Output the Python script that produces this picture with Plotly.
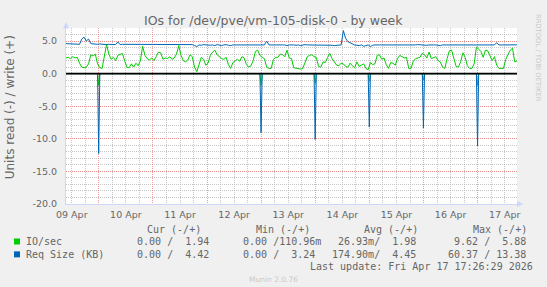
import plotly.graph_objects as go
import pandas as pd

# ---------------- data ----------------
start = pd.Timestamp('2026-04-09 09:26:29')
end = pd.Timestamp('2026-04-17 17:26:29')

# IO/sec write (+), hourly samples from start
io_write = [
    2.4, 2.5, 2.3, 2.6, 2.4, 2.5, 1.6, 1.0, 0.9, 1.0,
    1.5, 2.9, 2.7, 3.0, 1.5, 0.9, 0.8, 2.5, 4.5, 3.0,
    2.2, 2.5, 2.0, 2.8, 3.0, 3.1, 2.0, 1.0, 0.9, 1.5,
    1.0, 1.6, 1.2, 2.0, 4.2, 2.8, 2.3, 2.1, 2.4, 2.0,
    2.6, 3.3, 3.2, 2.2, 2.4, 2.3, 2.6, 2.2, 2.4, 3.0,
    4.3, 2.8, 2.0, 1.8, 2.1, 2.9, 2.6, 1.0, 0.3, 1.5,
    2.5, 2.2, 1.3, 1.6, 2.8, 3.3, 3.6, 2.9, 2.6, 2.3,
    2.2, 2.5, 1.4, 0.8, 1.7, 2.0, 2.2, 1.9, 2.6, 2.4,
    1.4, 1.0, 1.2, 2.0, 3.4, 3.6, 2.8, 2.5, 2.3, 1.0,
    0.8, 0.8, 2.2, 2.5, 2.5, 3.0, 2.9, 2.6, 3.6, 2.4,
    2.3, 0.9, 0.8, 0.8, 0.7, 0.8, 1.6, 2.6, 2.8, 2.9,
    2.6, 2.5, 1.1, 1.0, 1.8, 1.7, 2.5, 3.1, 2.3, 1.8,
    1.3, 1.2, 1.6, 1.5, 1.1, 1.0, 1.6, 1.2, 0.9, 1.8,
    1.1, 1.3, 1.5, 0.8, 0.6, 1.7, 1.4, 1.5, 2.8, 2.9,
    2.2, 2.4, 1.4, 0.8, 1.7, 1.6, 1.3, 2.3, 2.8, 2.6,
    2.4, 2.5, 0.8, 0.8, 1.9, 2.3, 2.4, 2.5, 3.1, 2.9,
    2.4, 3.3, 2.3, 2.5, 2.6, 2.0, 1.8, 1.0, 0.8, 2.3,
    3.5, 3.6, 2.3, 1.1, 1.0, 1.8, 3.2, 2.5, 1.2, 0.8,
    0.8, 1.5, 4.1, 3.8, 3.4, 2.5, 3.6, 3.5, 2.8, 2.0,
    2.6, 1.3, 0.8, 0.8, 0.8, 2.2, 3.0, 3.6, 3.9, 1.8,
    1.94,
]

# Req Size (KB) write (+), hourly samples from start
req_write = [
    4.60, 4.60, 4.55, 4.60, 4.60, 4.55, 4.50, 5.30, 5.60, 5.00,
    5.30, 4.60, 4.55, 4.50, 4.50, 4.55, 4.50, 4.50, 4.45, 4.50,
    4.50, 4.50, 4.45, 4.85, 4.45, 4.50, 4.50, 4.45, 4.45, 4.50,
    4.45, 4.45, 4.50, 4.50, 4.45, 4.45, 4.50, 4.45, 4.40, 4.45,
    4.45, 4.45, 4.45, 4.50, 4.45, 4.45, 4.50, 4.45, 4.45, 4.45,
    4.50, 4.45, 4.45, 4.45, 4.40, 4.45, 4.45, 4.30, 4.15, 4.40,
    4.35, 4.45, 4.40, 4.45, 4.35, 4.40, 4.30, 4.45, 4.35, 4.30,
    4.40, 4.45, 4.35, 4.30, 4.40, 4.40, 4.45, 4.40, 4.40, 4.35,
    4.40, 4.40, 4.45, 4.40, 4.35, 4.40, 4.45, 4.40, 4.40, 5.00,
    4.40, 4.40, 4.35, 4.40, 4.40, 4.45, 4.40, 4.40, 4.30, 4.40,
    4.45, 4.40, 4.35, 4.40, 4.30, 4.40, 4.45, 4.40, 4.40, 4.40,
    4.35, 4.40, 4.45, 4.40, 4.40, 4.35, 4.40, 4.40, 4.35, 4.30,
    4.35, 4.40, 4.40, 6.60, 5.40, 4.90, 4.70, 4.55, 4.40, 4.35,
    4.30, 4.40, 4.20, 4.30, 4.40, 4.15, 4.35, 4.40, 4.35, 4.40,
    4.40, 4.40, 4.35, 4.40, 4.40, 4.30, 4.40, 4.40, 4.40, 4.35,
    4.40, 4.40, 4.40, 4.35, 4.40, 4.40, 4.45, 4.40, 4.40, 4.40,
    4.35, 4.40, 4.45, 4.40, 4.40, 4.35, 4.30, 4.40, 4.40, 4.35,
    4.40, 4.40, 4.45, 4.40, 4.40, 4.35, 4.40, 4.40, 4.45, 4.40,
    4.40, 4.40, 4.35, 4.40, 4.40, 4.40, 4.40, 4.35, 4.40, 4.40,
    4.40, 4.75, 4.40, 4.40, 4.40, 4.35, 4.40, 4.40, 4.40, 4.40,
    4.42,
]

# read (-) spikes: otherwise zero
spike_times = ['2026-04-09 23:56:29', '2026-04-12 23:56:29', '2026-04-13 23:56:29',
               '2026-04-14 23:56:29', '2026-04-15 23:56:29', '2026-04-16 23:56:29']
io_read_spikes = [1.8, 1.8, 1.5, 1.2, 1.0, 1.8]
req_read_spikes = [12.25, 9.05, 10.1, 8.2, 8.35, 11.1]

day_labels = ['09 Apr', '10 Apr', '11 Apr', '12 Apr', '13 Apr', '14 Apr', '15 Apr', '16 Apr', '17 Apr']
y_tick_vals = [-20, -15, -10, -5, 0, 5]
y_tick_text = ['-20.0', '-15.0', '-10.0', '-5.0', '0.0', '5.0']

legend_names = ['IO/sec', 'Req Size (KB)']
legend_headers = ['Cur (-/+)', 'Min (-/+)', 'Avg (-/+)', 'Max (-/+)']
legend_rows = [
    ['  0.00 /  1.94 ', '  0.00 /110.96m', ' 26.93m/  1.98 ', '  9.62 /  5.88 '],
    ['  0.00 /  4.42 ', '  0.00 /  3.24 ', '174.90m/  4.45 ', ' 60.37 / 13.38 '],
]
last_update = 'Last update: Fri Apr 17 17:26:29 2026'

# ---------------- styles ----------------
GREEN = '#00cc00'
BLUE = '#0066b3'
FONT_C = '#666666'
AXIS_C = '#cfd6f8'
MGRID = 'rgba(240,120,120,0.75)'
GRID = 'rgba(180,180,180,0.75)'
W, H = 547, 287
L, R, T, B = 66, 30, 27.5, 83
PW, PH = W - L - R, H - T - B


def pxx(x):
    return (x - L) / PW


def pxy(y):
    return (H - B - y) / PH


hourly = pd.date_range(start, periods=len(io_write), freq='h')
hourly_r = pd.date_range(start, periods=len(req_write), freq='h')
half = pd.Timedelta(minutes=30)


def read_series(vals):
    xs, ys = [start], [0.0]
    for t, v in zip(spike_times, vals):
        t = pd.Timestamp(t)
        xs += [t - half, t, t + half]
        ys += [0.0, -v, 0.0]
    xs.append(end)
    ys.append(0.0)
    return xs, ys


LW = 1.0
fig = go.Figure()
xr, yr = read_series(io_read_spikes)
fig.add_trace(go.Scatter(x=xr, y=yr, mode='lines', line=dict(color=GREEN, width=LW), hoverinfo='skip'))
fig.add_trace(go.Scatter(x=hourly, y=io_write, mode='lines', line=dict(color=GREEN, width=LW), hoverinfo='skip'))
xr, yr = read_series(req_read_spikes)
fig.add_trace(go.Scatter(x=xr, y=yr, mode='lines', line=dict(color=BLUE, width=LW), hoverinfo='skip'))
fig.add_trace(go.Scatter(x=hourly_r, y=req_write, mode='lines', line=dict(color=BLUE, width=LW), hoverinfo='skip'))
# black zero rule
fig.add_trace(go.Scatter(x=[start, end], y=[0, 0], mode='lines', line=dict(color='black', width=1.6),
                         hoverinfo='skip', xaxis='x2'))

label_pos = pd.date_range('2026-04-09 12:00', periods=len(day_labels), freq='D')
tickfont = dict(family='DejaVu Sans', size=9.5, color=FONT_C)

fig.update_layout(
    width=W, height=H,
    margin=dict(l=L, r=R, t=T, b=B, pad=0),
    paper_bgcolor='#f0f0f0', plot_bgcolor='#ffffff',
    showlegend=False,
    xaxis=dict(type='date', range=[start, end], tickmode='array', tickvals=label_pos, ticktext=day_labels,
               showgrid=False, zeroline=False, ticks='', tickfont=tickfont, showline=True,
               linecolor=AXIS_C, linewidth=1, automargin=False, fixedrange=True, ticklabelstandoff=2),
    xaxis2=dict(type='date', range=[start, end], overlaying='x', side='bottom', showticklabels=False,
                tickmode='linear', tick0='2026-04-10 00:00', dtick=86400000, ticks='',
                showgrid=True, gridcolor=MGRID, griddash='1px,1px', gridwidth=1,
                minor=dict(tickmode='linear', tick0='2026-04-10 00:00', dtick=21600000, showgrid=True,
                           gridcolor=GRID, griddash='1px,1px', gridwidth=1),
                zeroline=False, showline=False, automargin=False, fixedrange=True),
    yaxis=dict(range=[-20, 7], tickmode='array', tickvals=y_tick_vals, ticktext=y_tick_text,
               showgrid=True, gridcolor=MGRID, griddash='1px,1px', gridwidth=1,
               minor=dict(tickmode='linear', tick0=0, dtick=1, showgrid=True, gridcolor=GRID,
                          griddash='1px,1px', gridwidth=1),
               zeroline=False, ticks='', tickfont=tickfont, showline=True, linecolor=AXIS_C, linewidth=1,
               automargin=False, fixedrange=True, ticklabelstandoff=6),
)

ann = []
ann.append(dict(text='IOs for /dev/pve/vm-105-disk-0 - by week', x=pxx(273.5), y=pxy(20),
                font=dict(family='DejaVu Sans', size=12.5, color=FONT_C)))
ann.append(dict(text='Units read (-) / write (+)', x=pxx(10), y=pxy(107), textangle=-90,
                font=dict(family='DejaVu Sans', size=12, color=FONT_C)))
ann.append(dict(text='RRDTOOL / TOBI OETIKER', x=pxx(537.5), y=pxy(57), textangle=90,
                font=dict(family='DejaVu Sans', size=6.8, color='#c8c8c8')))
ann.append(dict(text='Munin 2.0.76', x=pxx(273.5), y=pxy(280),
                font=dict(family='DejaVu Sans', size=7.5, color='#c8c8c8')))

mono = dict(family='DejaVu Sans Mono', size=10, color=FONT_C)
nb = lambda s: s.replace(' ', '\u00a0')
for hx, htxt in zip([146.5, 255.8, 363.9, 472.8], legend_headers):
    ann.append(dict(text=nb(htxt), x=pxx(hx), y=pxy(229.1), xanchor='left', font=mono))
row_y = [241.6, 254.5]
group_x = [125.1, 230.8, 331.8, 441.7]
for ry, name, row in zip(row_y, legend_names, legend_rows):
    ann.append(dict(text=nb(name), x=pxx(26.2), y=pxy(ry), xanchor='left', font=mono))
    for gx, s in zip(group_x, row):
        ann.append(dict(text=nb(s), x=pxx(gx), y=pxy(ry), xanchor='left', font=mono))
ann.append(dict(text=nb(last_update), x=pxx(532.8), y=pxy(266.8), xanchor='right', font=mono))

for a in ann:
    a.setdefault('xanchor', 'center')
    a.update(xref='paper', yref='paper', showarrow=False, yanchor='middle', borderpad=0, borderwidth=0)
fig.update_layout(annotations=ann)

shapes = []
# legend colour boxes
for ry, col in zip(row_y, [GREEN, BLUE]):
    shapes.append(dict(type='rect', xref='paper', yref='paper', x0=pxx(14), x1=pxx(20),
                       y0=pxy(ry - 3), y1=pxy(ry + 3), fillcolor=col, line=dict(width=0)))
# axis arrows
shapes.append(dict(type='path', xref='paper', yref='paper',
                   path=f'M {pxx(63)} {pxy(28)} L {pxx(69)} {pxy(28)} L {pxx(66)} {pxy(21.5)} Z',
                   fillcolor=AXIS_C, line=dict(width=0)))
shapes.append(dict(type='path', xref='paper', yref='paper',
                   path=f'M {pxx(517)} {pxy(201)} L {pxx(517)} {pxy(207)} L {pxx(523.5)} {pxy(204)} Z',
                   fillcolor=AXIS_C, line=dict(width=0)))
fig.update_layout(shapes=shapes)

fig.write_html('out.html')
